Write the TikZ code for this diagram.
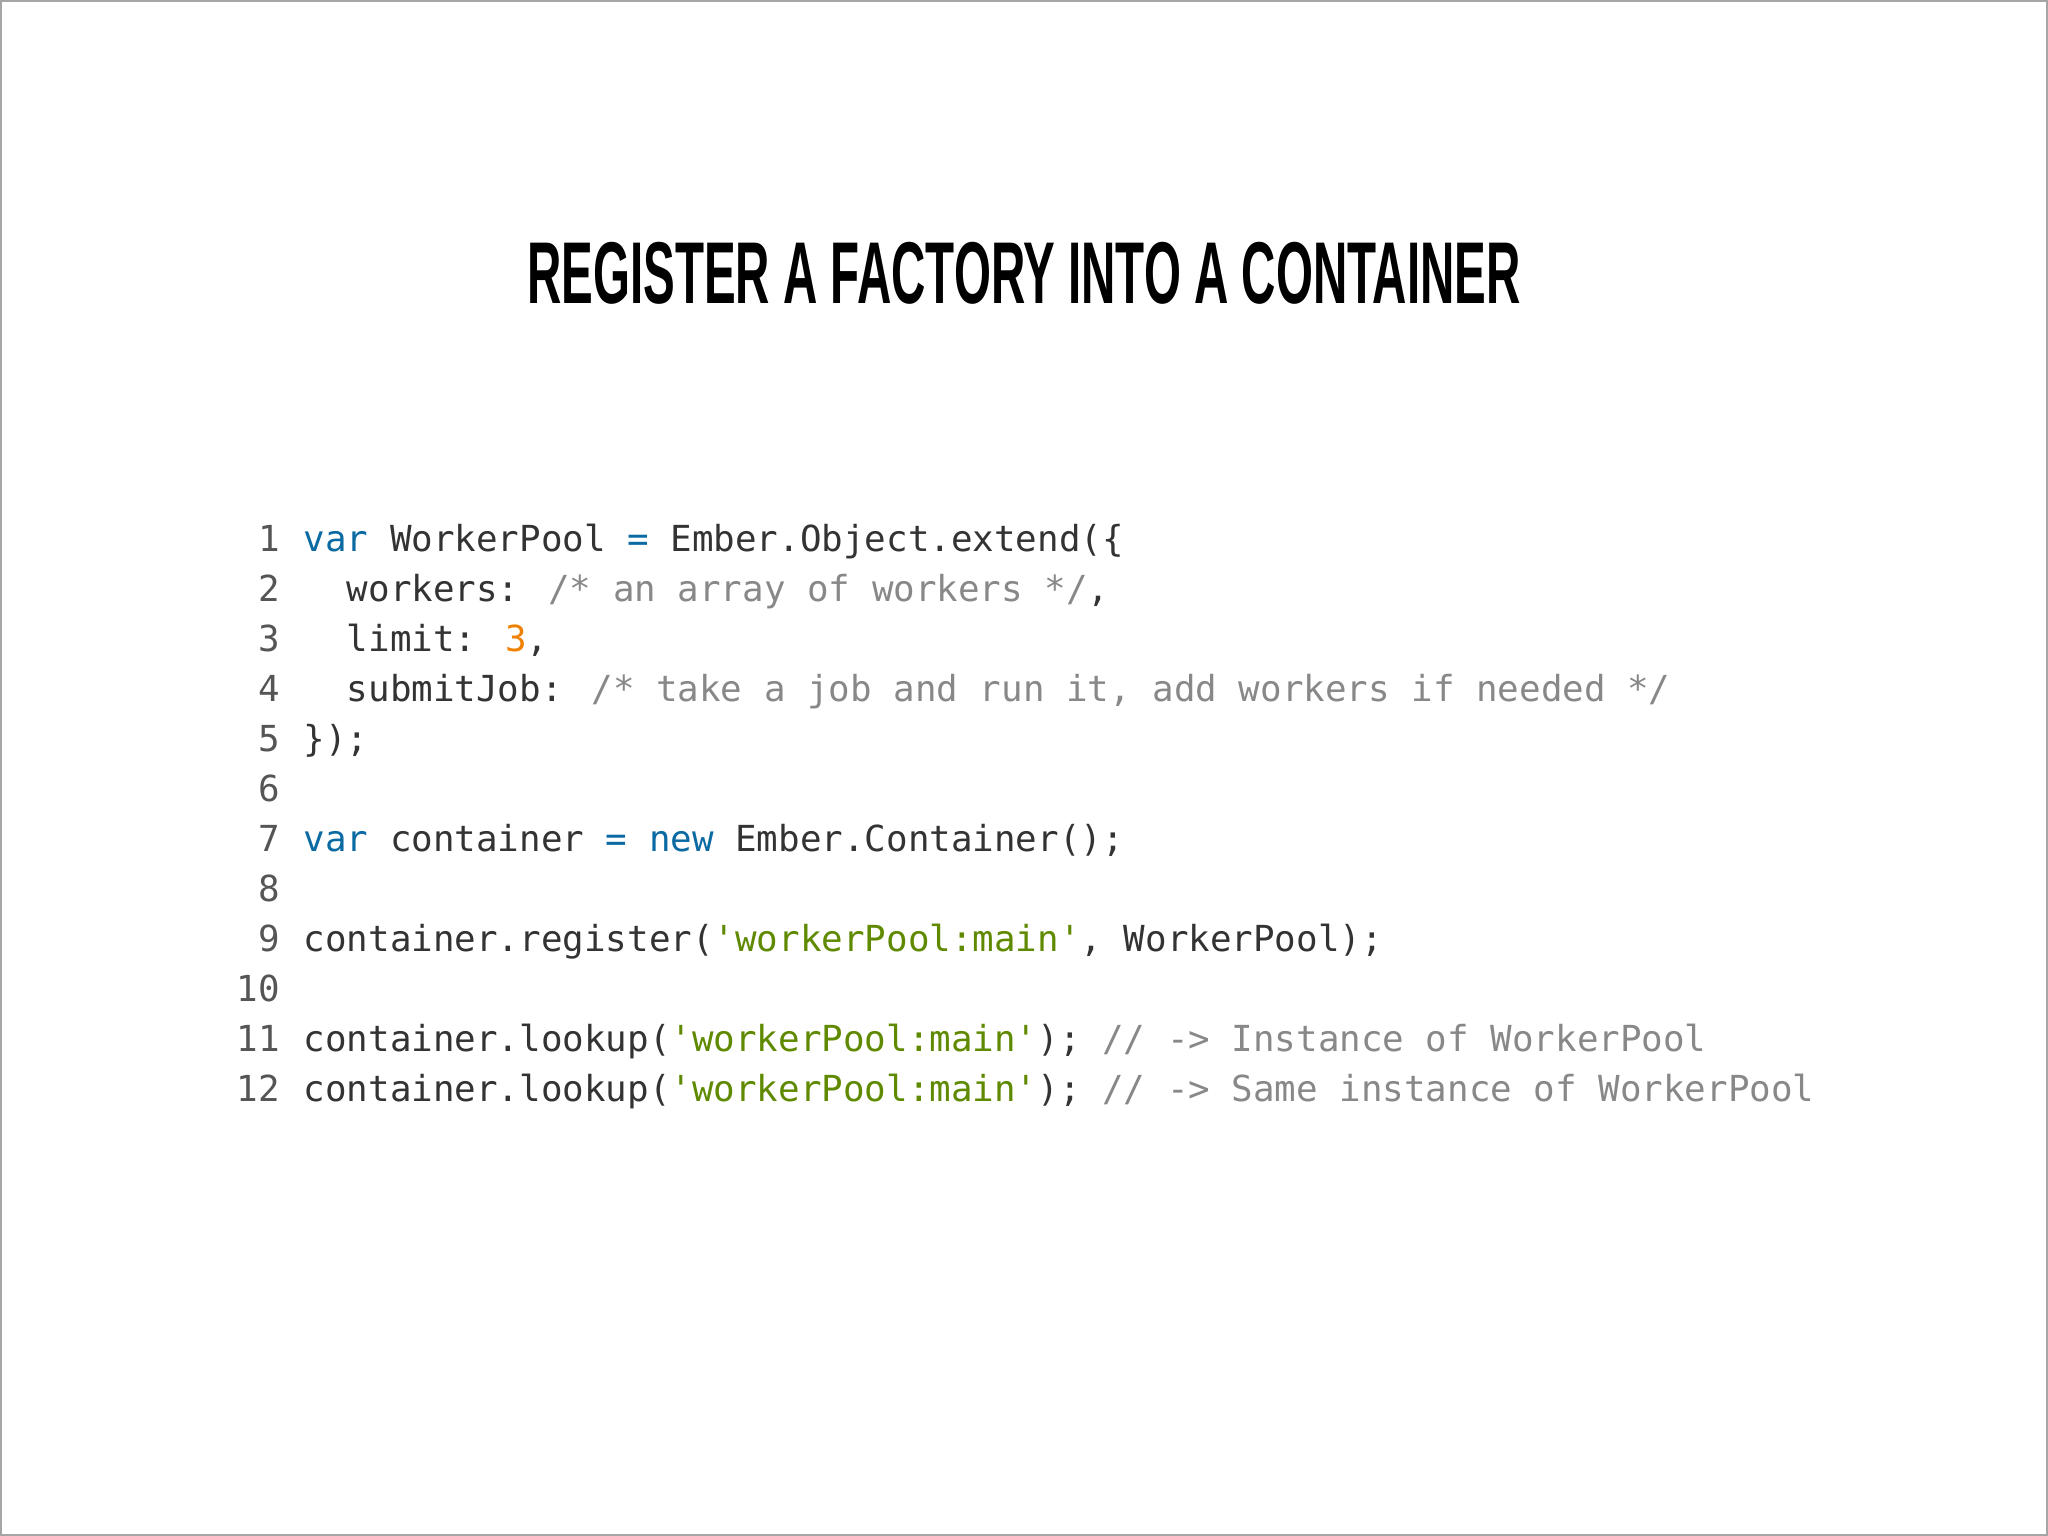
\documentclass[tikz,border=0pt]{standalone}
\usepackage{fontspec}
\newfontfamily\cf{DejaVu Sans Mono}
\newfontfamily\tf{Liberation Sans}
\definecolor{tx}{HTML}{333333}
\definecolor{kw}{HTML}{0B6AA2}
\definecolor{st}{HTML}{5F8A00}
\definecolor{nm}{HTML}{F08000}
\definecolor{cm}{HTML}{888888}
\definecolor{ln}{HTML}{555555}
\newcommand{\q}{\char"27}
\begin{document}
\begin{tikzpicture}[x=0.01306cm,y=0.01306cm,
  code/.style={anchor=base west,inner sep=0,font=\cf\fontsize{10.2pt}{12pt}\selectfont,text=tx},
  lnum/.style={anchor=base east,inner sep=0,font=\cf\fontsize{10.2pt}{12pt}\selectfont,text=ln}]
\useasboundingbox (0,0) rectangle (1568,1176);
\draw[gray!70,line width=0.6pt] (0.5,0.5) rectangle (1567.5,1175.5);
\node[inner sep=0,font=\tf\bfseries\fontsize{26pt}{30pt}\selectfont] (title) at (784,967) {\scalebox{0.52}[0.96]{REGISTER A FACTORY INTO A CONTAINER}};
\def\L#1#2#3{\node[lnum] (n#1) at (215,{1176-422-38.3*(#1-1)}) {#1};
  \node[code] (c#1) at (232,{1176-422-38.3*(#1-1)}) {#2};}
\L{1}{\textcolor{kw}{var} WorkerPool \textcolor{kw}{=} Ember.Object.extend(\{}{}
\L{2}{\ \ workers: \textcolor{cm}{/* an array of workers */},}{}
\L{3}{\ \ limit: \textcolor{nm}{3},}{}
\L{4}{\ \ submitJob: \textcolor{cm}{/* take a job and run it, add workers if needed */}}{}
\L{5}{\});}{}
\L{6}{}{}
\L{7}{\textcolor{kw}{var} container \textcolor{kw}{=} \textcolor{kw}{new} Ember.Container();}{}
\L{8}{}{}
\L{9}{container.register(\textcolor{st}{\q workerPool:main\q}, WorkerPool);}{}
\L{10}{}{}
\L{11}{container.lookup(\textcolor{st}{\q workerPool:main\q}); \textcolor{cm}{// -> Instance of WorkerPool}}{}
\L{12}{container.lookup(\textcolor{st}{\q workerPool:main\q}); \textcolor{cm}{// -> Same instance of WorkerPool}}{}
\end{tikzpicture}
\end{document}
